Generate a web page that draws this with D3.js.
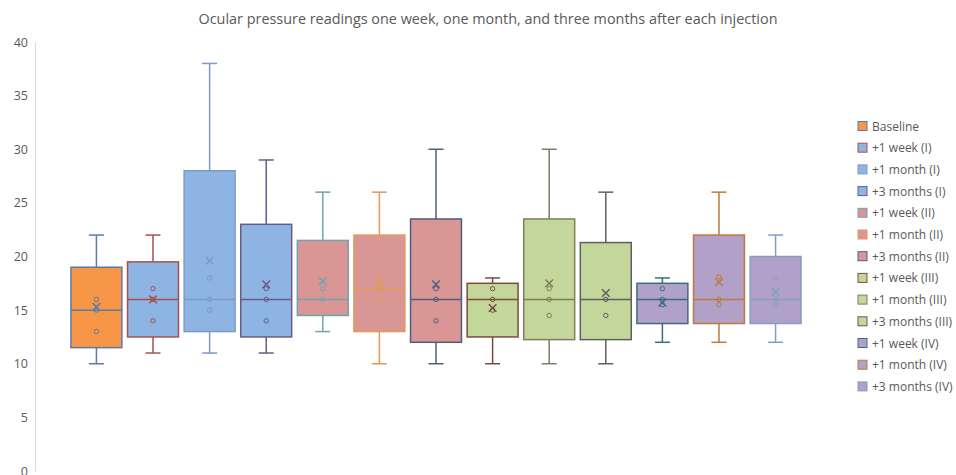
<!DOCTYPE html>
<html>
<head>
<meta charset="utf-8">
<script src="https://cdn.jsdelivr.net/npm/d3@7"></script>
<style>
  body { margin: 0; background: #fff; }
  svg text { font-family: "Open Sans", sans-serif; fill: #595959; }
</style>
</head>
<body>
<div id="chart"></div>
<script>
// series names (legend order)
const categories = ["Baseline", "+1 week (I)", "+1 month (I)", "+3 months (I)",
    "+1 week (II)", "+1 month (II)", "+3 months (II)",
    "+1 week (III)", "+1 month (III)", "+3 months (III)",
    "+1 week (IV)", "+1 month (IV)", "+3 months (IV)"];

// box statistics
const whiskerLow  = [10, 11, 11, 11, 13, 10, 10, 10, 10, 10, 12, 12, 12];
const q1Values    = [11.5, 12.5, 13, 12.5, 14.5, 13, 12, 12.5, 12.25, 12.25, 13.75, 13.75, 13.75];
const medians     = [15, 16, 16, 16, 16, 17, 16, 16, 16, 16, 16, 16, 16];
const q3Values    = [19, 19.5, 28, 23, 21.5, 22, 23.5, 17.5, 23.5, 21.3, 17.5, 22, 20];
const whiskerHigh = [22, 22, 38, 29, 26, 26, 30, 18, 30, 26, 18, 26, 22];
const means       = [15.3, 16, 19.6, 17.4, 17.7, 17.4, 17.4, 15.2, 17.5, 16.6, 15.7, 17.6, 16.7];
// inner points drawn as small circles
const innerPoints = [
    [16, 15, 13],
    [17, 16, 14],
    [18, 16, 15],
    [17, 16, 14],
    [17, 16],
    [18, 17, 16],
    [17, 16, 14],
    [17, 16, 15],
    [17, 16, 14.5],
    [16, 14.5],
    [17, 16, 15.5],
    [18.1, 16, 15.5],
    [18, 16, 15.5]
];
const yTicks = [0, 5, 10, 15, 20, 25, 30, 35, 40];

// colours
const fills = ["#F79646", "#8DB4E2", "#8DB4E2", "#8DB4E2",
    "#DA9694", "#DA9694", "#DA9694",
    "#C4D79B", "#C4D79B", "#C4D79B",
    "#B1A0C7", "#B1A0C7", "#B1A0C7"];
const strokes = ["#5B7BA8", "#A5524F", "#7B9BC4", "#6A5A8C",
    "#6FA3B3", "#E39A58", "#4E5F7C",
    "#7D4A3C", "#7C7E5C", "#5E5F62",
    "#3C6E80", "#C0783C", "#829FC2"];

const W = 956, H = 475;
const plot = {left: 35, right: 837, top: 42, bottom: 471};

const svg = d3.select("#chart").append("svg")
    .attr("width", W)
    .attr("height", H);

const x = d3.scaleBand()
    .domain(categories)
    .range([plot.left, plot.right])
    .paddingInner(0.1)
    .paddingOuter(0.635);

const y = d3.scaleLinear()
    .domain([0, 40])
    .range([plot.bottom, plot.top]);

// title
svg.append("text")
    .attr("x", 488)
    .attr("y", 24)
    .attr("text-anchor", "middle")
    .style("font-size", "14.4px")
    .text("Ocular pressure readings one week, one month, and three months after each injection");

// y axis
const yAxis = d3.axisLeft(y).tickValues(yTicks).tickSize(0).tickPadding(7);
const yg = svg.append("g")
    .attr("transform", "translate(" + plot.left + ",0)")
    .call(yAxis);
yg.select(".domain").attr("stroke", "#D9D9D9");
yg.selectAll("text")
    .style("font-size", "12.5px")
    .attr("fill", "#595959");

const boxes = categories.map((c, i) => ({
    name: c, lo: whiskerLow[i], q1: q1Values[i], med: medians[i], q3: q3Values[i],
    hi: whiskerHigh[i], mean: means[i], pts: innerPoints[i], fill: fills[i], stroke: strokes[i]
}));

const bw = x.bandwidth();
const capW = 15;

const g = svg.selectAll(".box")
    .data(boxes)
    .enter()
    .append("g")
    .attr("class", "box");

// whiskers
g.append("line")
    .attr("x1", d => x(d.name) + bw / 2)
    .attr("x2", d => x(d.name) + bw / 2)
    .attr("y1", d => y(d.q3))
    .attr("y2", d => y(d.hi))
    .attr("stroke", d => d.stroke)
    .attr("stroke-width", 1.5);
g.append("line")
    .attr("x1", d => x(d.name) + bw / 2)
    .attr("x2", d => x(d.name) + bw / 2)
    .attr("y1", d => y(d.q1))
    .attr("y2", d => y(d.lo))
    .attr("stroke", d => d.stroke)
    .attr("stroke-width", 1.5);
// caps
g.append("line")
    .attr("x1", d => x(d.name) + bw / 2 - capW / 2)
    .attr("x2", d => x(d.name) + bw / 2 + capW / 2)
    .attr("y1", d => y(d.hi))
    .attr("y2", d => y(d.hi))
    .attr("stroke", d => d.stroke)
    .attr("stroke-width", 1.5);
g.append("line")
    .attr("x1", d => x(d.name) + bw / 2 - capW / 2)
    .attr("x2", d => x(d.name) + bw / 2 + capW / 2)
    .attr("y1", d => y(d.lo))
    .attr("y2", d => y(d.lo))
    .attr("stroke", d => d.stroke)
    .attr("stroke-width", 1.5);

// box
g.append("rect")
    .attr("x", d => x(d.name))
    .attr("y", d => y(d.q3))
    .attr("width", bw)
    .attr("height", d => y(d.q1) - y(d.q3))
    .attr("fill", d => d.fill)
    .attr("stroke", d => d.stroke)
    .attr("stroke-width", 1.5);

// median
g.append("line")
    .attr("x1", d => x(d.name))
    .attr("x2", d => x(d.name) + bw)
    .attr("y1", d => y(d.med))
    .attr("y2", d => y(d.med))
    .attr("stroke", d => d.stroke)
    .attr("stroke-width", 1.5);

// inner points
g.each(function(d) {
    d3.select(this).selectAll("circle")
        .data(d.pts)
        .enter()
        .append("circle")
        .attr("cx", x(d.name) + bw / 2)
        .attr("cy", v => y(v))
        .attr("r", 2.2)
        .attr("fill", "none")
        .attr("stroke", d.stroke)
        .attr("stroke-width", 1);
});

// mean marker (x)
const m = 3.8;
g.append("path")
    .attr("d", d => {
        const cx = x(d.name) + bw / 2, cy = y(d.mean);
        return "M" + (cx - m) + "," + (cy - m) + "L" + (cx + m) + "," + (cy + m) +
            "M" + (cx - m) + "," + (cy + m) + "L" + (cx + m) + "," + (cy - m);
    })
    .attr("stroke", d => d.stroke)
    .attr("stroke-width", 1.5)
    .attr("fill", "none");

// legend
const legend = svg.append("g")
    .attr("transform", "translate(858,126)");
const li = legend.selectAll(".li")
    .data(boxes)
    .enter()
    .append("g")
    .attr("transform", (d, i) => "translate(0," + (i * 21.7) + ")");
li.append("rect")
    .attr("x", 0)
    .attr("y", -4.5)
    .attr("width", 9)
    .attr("height", 9)
    .attr("fill", d => d.fill)
    .attr("stroke", d => d.stroke)
    .attr("stroke-width", 1);
li.append("text")
    .attr("x", 14)
    .attr("y", 4.5)
    .style("font-size", "12px")
    .text(d => d.name);
</script>
</body>
</html>
